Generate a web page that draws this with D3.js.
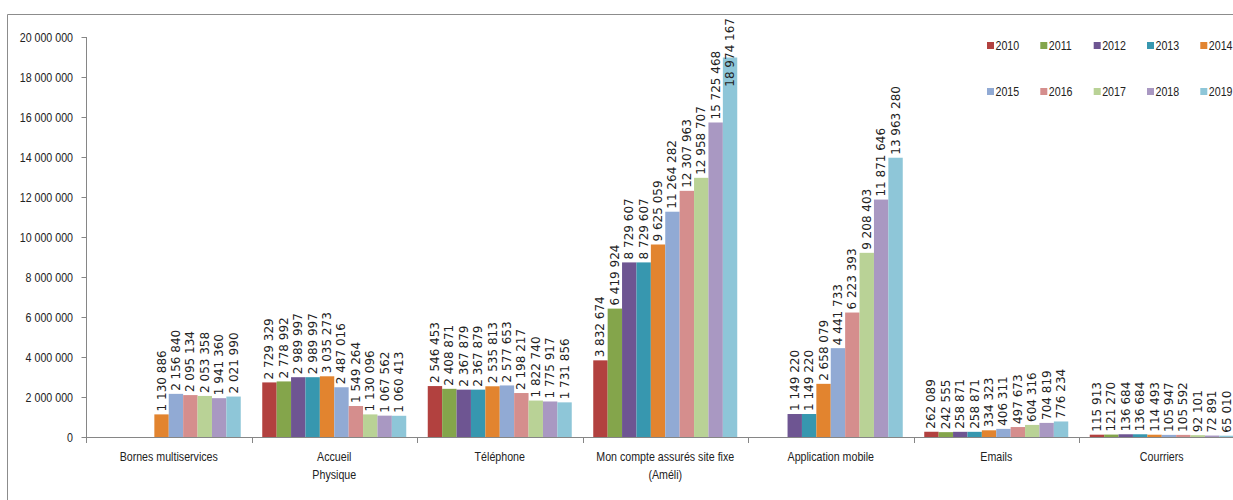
<!DOCTYPE html>
<html><head><meta charset="utf-8">
<script src="https://cdn.jsdelivr.net/npm/d3@7"></script>
<style>
html,body{margin:0;padding:0;background:#fff;overflow:hidden;}
svg{display:block;}
</style></head>
<body>
<svg id="chart" width="1233" height="500"></svg>
<script>
const categories = [
  ["Bornes multiservices"],
  ["Accueil", "Physique"],
  ["Téléphone"],
  ["Mon compte assurés site fixe", "(Améli)"],
  ["Application mobile"],
  ["Emails"],
  ["Courriers"]
];
const years = ["2010","2011","2012","2013","2014","2015","2016","2017","2018","2019"];
const colors = ["#B2413F","#84A54B","#6E5592","#3797AF","#E2842F","#91AAD4","#D58E8D","#B9D296","#A998C2","#8EC6D8"];
const bornes    = [null,null,null,null,1130886,2156840,2095134,2053358,1941360,2021990];
const accueil   = [2729329,2778992,2989997,2989997,3035273,2487016,1549264,1130096,1067562,1060413];
const telephone = [2546453,2408871,2367879,2367879,2535813,2577653,2198217,1822740,1775917,1731856];
const ameli     = [3832674,6419924,8729607,8729607,9625059,11264282,12307963,12958707,15725468,18974167];
const appli     = [null,null,1149220,1149220,2658079,4441733,6223393,9208403,11871646,13963280];
const emails    = [262089,242555,258871,258871,334323,406311,497673,604316,704819,776234];
const courriers = [115913,121270,136684,136684,114493,105947,105592,92101,72891,65010];
const seriesByCategory = [bornes, accueil, telephone, ameli, appli, emails, courriers];
const yTicks = [0,2000000,4000000,6000000,8000000,10000000,12000000,14000000,16000000,18000000,20000000];

const svg = d3.select("#chart");
const axisFont = "'Liberation Sans',Arial,sans-serif";
const labelFont = "'DejaVu Sans',Verdana,sans-serif";
const SX = 0.82; // horizontal condensation to mimic Calibri
const fmt = v => d3.format(",")(v).replace(/,/g, " ");

// frame
svg.append("line").attr("x1",7.5).attr("x2",1233).attr("y1",14.5).attr("y2",14.5).attr("stroke","#8c8c8c");
svg.append("line").attr("x1",7.5).attr("x2",7.5).attr("y1",14.5).attr("y2",500).attr("stroke","#8c8c8c");

const groupW = 165.5;
const x0 = d3.scaleBand().domain(d3.range(categories.length)).range([86, 86 + groupW*categories.length]).padding(0);
const x1 = d3.scaleBand().domain(years).range([10.75, groupW - 10.75]).padding(0);
const y = d3.scaleLinear().domain([0, 20000000]).range([437, 37]);

// y axis
const yAxis = svg.append("g").attr("transform","translate(86.5,0)")
  .call(d3.axisLeft(y).tickValues(yTicks).tickSize(5).tickPadding(8).tickFormat(fmt));
yAxis.select(".domain").attr("stroke","#868686").attr("d","M-0,37V442");
yAxis.selectAll(".tick line").attr("stroke","#868686");
yAxis.selectAll(".tick text").attr("font-family",axisFont).attr("font-size",13).attr("fill","#222")
  .attr("x", -13.5 / SX).attr("transform", `scale(${SX},1)`);

// bars
const groups = svg.append("g").selectAll("g").data(seriesByCategory).join("g")
  .attr("transform",(d,i)=>`translate(${x0(i)},0)`);
groups.selectAll("rect").data(d => d.map((v,j)=>({v, year: years[j], j})).filter(o => o.v !== null))
  .join("rect")
  .attr("x", o => x1(o.year))
  .attr("width", x1.bandwidth())
  .attr("y", o => y(o.v))
  .attr("height", o => y(0) - y(o.v))
  .attr("fill", o => colors[o.j]);

// data labels
groups.selectAll("text").data(d => d.map((v,j)=>({v, year: years[j], j})).filter(o => o.v !== null))
  .join("text")
  .attr("font-family", labelFont).attr("font-size", 12).attr("fill","#222")
  .attr("text-anchor","start").attr("dominant-baseline","central")
  .text(o => fmt(o.v))
  .each(function(o){
    const w = this.getComputedTextLength();
    let start = y(o.v) - 3;
    if (start - w < 18) start = 18 + w;
    d3.select(this).attr("transform", `translate(${x1(o.year) + x1.bandwidth()/2},${start}) rotate(-90)`);
  });

// x axis
const xAxisG = svg.append("g");
xAxisG.append("line").attr("x1",86).attr("x2",1233).attr("y1",437.5).attr("y2",437.5).attr("stroke","#868686");
xAxisG.selectAll("line.tk").data(d3.range(categories.length+1)).join("line").attr("class","tk")
  .attr("x1", i => Math.round(86 + i*groupW)+0.5).attr("x2", i => Math.round(86 + i*groupW)+0.5)
  .attr("y1",437).attr("y2",443).attr("stroke","#868686");
const catLabels = xAxisG.selectAll("text").data(categories).join("text")
  .attr("font-family",axisFont).attr("font-size",13).attr("fill","#222").attr("text-anchor","middle")
  .attr("transform",(d,i)=>`translate(${x0(i)+groupW/2},461) scale(${SX},1)`);
catLabels.selectAll("tspan").data(d=>d).join("tspan")
  .attr("x",0).attr("dy",(d,i)=> i===0 ? 0 : 18).text(d=>d);

// legend
const legend = svg.append("g");
const legX = [987, 1040.3, 1093.7, 1147, 1200.3];
const legY = [45.5, 91.5];
const items = legend.selectAll("g").data(years).join("g")
  .attr("transform",(d,i)=>`translate(${legX[i%5]},${legY[Math.floor(i/5)]})`);
items.append("rect").attr("x",0).attr("y",-3.5).attr("width",7).attr("height",7).attr("fill",(d,i)=>colors[i]);
items.append("text").attr("transform",`translate(8.5,0) scale(${SX},1)`).attr("dominant-baseline","central")
  .attr("font-family",axisFont).attr("font-size",13).attr("fill","#222").text(d=>d);
</script>
</body></html>
